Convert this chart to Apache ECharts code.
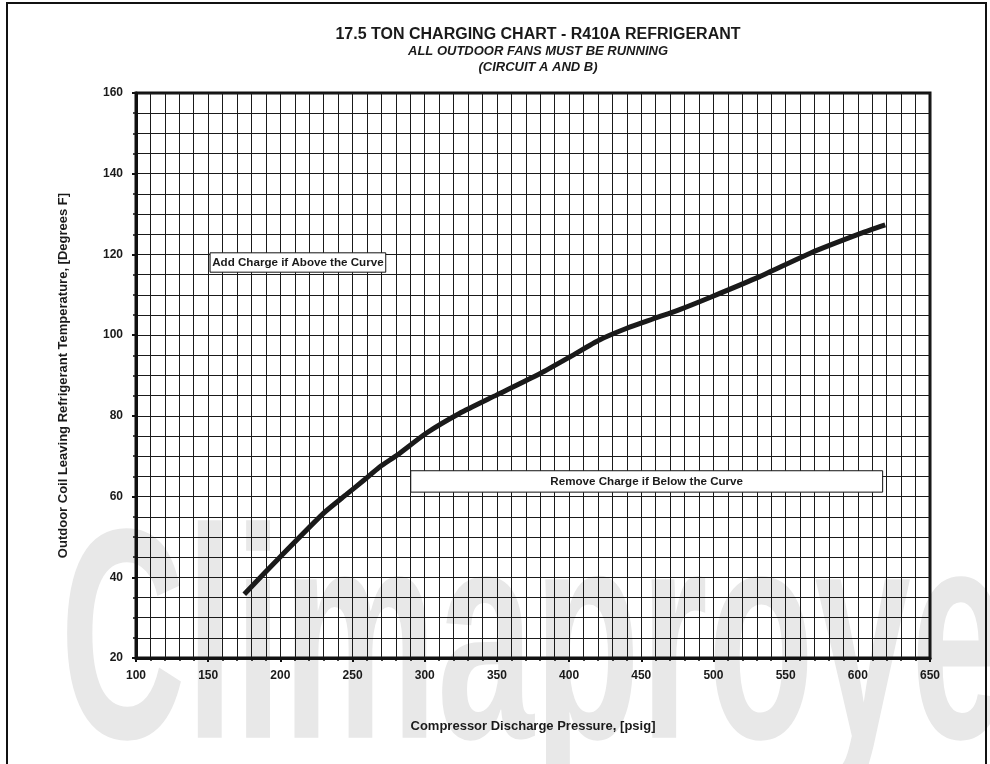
<!DOCTYPE html>
<html>
<head>
<meta charset="utf-8">
<script src="https://cdn.jsdelivr.net/npm/echarts@6/dist/echarts.min.js"></script>
<style>
  html, body { margin: 0; padding: 0; background: #fff; }
  #chart { width: 990px; height: 764px; }
</style>
</head>
<body>
<div id="chart"></div>
<script>
// discharge pressure (psig) vs leaving refrigerant temp (F)
const pressure = [175, 200, 230, 246, 258, 269, 281, 301, 324, 350, 380, 401, 421, 440, 458, 477, 498, 532, 567, 602, 619]
const temperature = [35.8, 45.1, 55.9, 60.6, 64.1, 67.4, 70.3, 75.7, 80.6, 85.2, 90.5, 94.7, 98.8, 101.7, 104.0, 106.4, 109.4, 114.5, 120.3, 125.2, 127.3]

const titleText = '17.5 TON CHARGING CHART - R410A REFRIGERANT'
const subText = 'ALL OUTDOOR FANS MUST BE RUNNING\n(CIRCUIT A AND B)'
const addNote = 'Add Charge if Above the Curve'
const removeNote = 'Remove Charge if Below the Curve'

const font = '"Liberation Sans", Arial, sans-serif'
const ink = '#1a1a1a'

const chart = echarts.init(document.getElementById('chart'))

chart.setOption({
  backgroundColor: '#fff',
  animation: false,
  title: {
    text: titleText,
    subtext: subText,
    left: 533, textAlign: 'center', top: 22,
    itemGap: 0,
    textStyle: { fontFamily: font, fontSize: 16, fontWeight: 'bold', color: ink },
    subtextStyle: { fontFamily: font, fontSize: 13, fontWeight: 'bold', fontStyle: 'italic',
      color: ink, lineHeight: 16 },
  },
  graphic: [
    // faint watermark behind the grid
    { type: 'text', z: -10, left: 60, top: 505, silent: true,
      style: { text: 'Climaproyectos', fontFamily: font,
        fontSize: 300, fontWeight: 'bold', fill: '#e8e8e8' },
      scaleX: 0.58 },
    { type: 'rect', z: 100, silent: true,
      shape: { x: 7, y: 3, width: 979, height: 800 },
      style: { fill: 'none', stroke: '#111', lineWidth: 2 } },
  ],
  grid: { left: 136, right: 60, top: 93, bottom: 106, show: true,
    borderColor: '#111', borderWidth: 3, backgroundColor: 'transparent' },
  xAxis: {
    type: 'value', min: 100, max: 650, interval: 50,
    name: 'Compressor Discharge Pressure, [psig]',
    nameLocation: 'middle', nameGap: 62,
    nameTextStyle: { fontFamily: font, fontSize: 13, fontWeight: 'bold', color: ink },
    axisLine: { show: true, lineStyle: { color: '#111', width: 3 } },
    axisTick: { show: true, length: 4, lineStyle: { color: '#111', width: 2 } },
    minorTick: { show: true, splitNumber: 5, length: 3, lineStyle: { color: '#111', width: 1.5 } },
    axisLabel: { fontFamily: font, fontSize: 12, fontWeight: 'bold', color: ink, margin: 12 },
    splitLine: { show: true, lineStyle: { color: ink, width: 1 } },
    minorSplitLine: { show: true, lineStyle: { color: ink, width: 1 } },
  },
  yAxis: {
    type: 'value', min: 20, max: 160, interval: 20,
    name: 'Outdoor Coil Leaving Refrigerant Temperature, [Degrees F]',
    nameLocation: 'middle', nameGap: 66,
    nameTextStyle: { fontFamily: font, fontSize: 13, fontWeight: 'bold', color: ink },
    axisLine: { show: true, lineStyle: { color: '#111', width: 3 } },
    axisTick: { show: true, length: 4, lineStyle: { color: '#111', width: 2 } },
    minorTick: { show: true, splitNumber: 4, length: 3, lineStyle: { color: '#111', width: 1.5 } },
    axisLabel: { fontFamily: font, fontSize: 12, fontWeight: 'bold', color: ink, margin: 13 },
    splitLine: { show: true, lineStyle: { color: ink, width: 1 } },
    minorSplitLine: { show: true, lineStyle: { color: ink, width: 1 } },
  },
  series: [{
    type: 'line',
    data: pressure.map((p, i) => [p, temperature[i]]),
    smooth: 0.2,
    symbol: 'none',
    lineStyle: { color: ink, width: 5, cap: 'butt' },
    markArea: {
      silent: true,
      itemStyle: { color: '#fff', borderColor: '#111', borderWidth: 1 },
      label: { show: true, position: 'inside', fontFamily: font, fontSize: 11.6,
        fontWeight: 'bold', color: ink },
      data: [
        [{ name: addNote, coord: [151.3, 120.4] }, { coord: [273, 115.6] }],
        [{ name: removeNote, coord: [290.3, 66.4] }, { coord: [617.2, 61.1] }],
      ],
    },
  }],
})

window.addEventListener('resize', () => chart.resize())
</script>
</body>
</html>
